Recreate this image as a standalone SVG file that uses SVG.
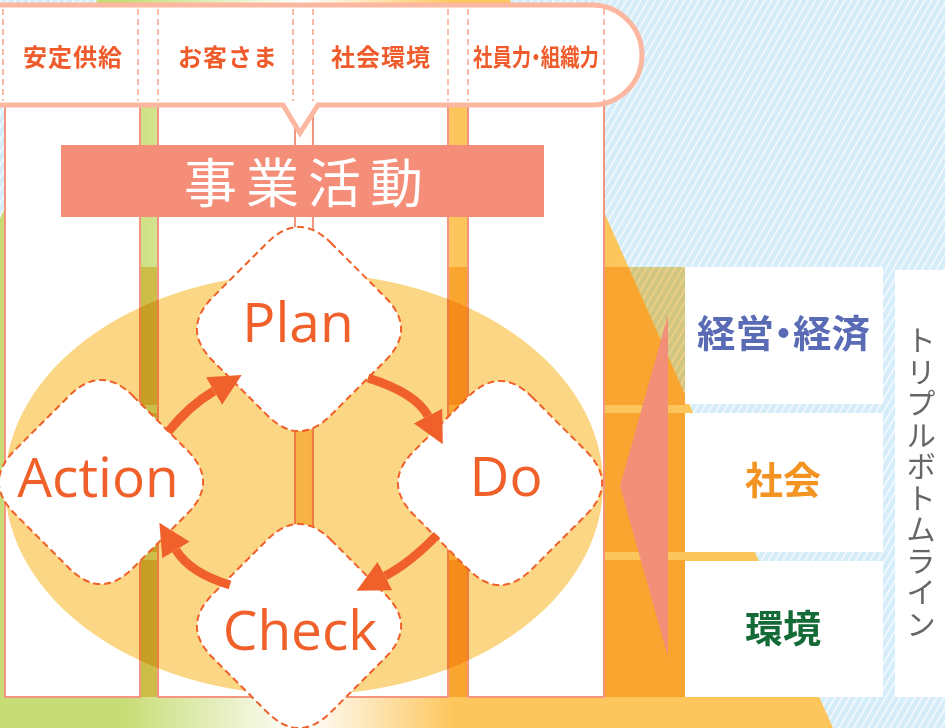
<svg xmlns="http://www.w3.org/2000/svg" xmlns:xlink="http://www.w3.org/1999/xlink" width="945" height="728" viewBox="0 0 945 728">
<style>
.jp{font-family:'Noto Sans CJK JP','Noto Sans',sans-serif}
.palt{font-feature-settings:"palt" 1}
.hd{font-size:24px;font-weight:700;fill:#ef5b2a;letter-spacing:1px}
.col{fill:#fff;stroke:#f39580;stroke-width:2}
.dash{stroke:#f9a590;stroke-width:1.5;stroke-dasharray:6 4;fill:none}
.dia{fill:#fff;stroke:#f0602a;stroke-width:2;stroke-dasharray:7 4}
.en{font-family:'Open Sans','Noto Sans',sans-serif;font-size:55px;fill:#f0602a;text-anchor:middle}
.mul{mix-blend-mode:multiply}
.arr{fill:none;stroke:#f0602a;stroke-width:9}
.box{fill:#fff}
.bx{font-size:38px;font-weight:700;text-anchor:middle}
</style>
<defs>
<pattern id="hatch" width="6.3" height="20" patternUnits="userSpaceOnUse" patternTransform="rotate(30)">
<rect width="6.3" height="20" fill="#d5ecf9"/>
<rect width="1.4" height="20" fill="#ffffff" opacity="0.85"/>
</pattern>
<linearGradient id="pyr" gradientUnits="userSpaceOnUse" x1="0" y1="0" x2="945" y2="0">
<stop offset="0.13" stop-color="#c8dc75"/>
<stop offset="0.32" stop-color="#ffffff"/>
<stop offset="0.48" stop-color="#fdc65d"/>
</linearGradient>
<path id="dia" d="M31.8,-86.2 L86.2,-31.8 Q118,0 86.2,31.8 L31.8,86.2 Q0,118 -31.8,86.2 L-86.2,31.8 Q-118,0 -86.2,-31.8 L-31.8,-86.2 Q0,-118 31.8,-86.2 Z"/>
<marker id="ah" markerUnits="userSpaceOnUse" markerWidth="32" markerHeight="32" viewBox="0 0 30 30" refX="0" refY="15" orient="auto">
<path d="M0,0 L30,15 L0,30 Z" fill="#f0602a"/>
</marker>
</defs>

<g id="background">
<rect width="945" height="728" fill="url(#hatch)"/>
<polygon points="97,0 510,0 833,728 -226,728" fill="url(#pyr)"/>
<g class="mul" fill="#fbd685">
<rect x="5" y="267" width="680" height="138"/>
<rect x="5" y="413" width="680" height="139"/>
<rect x="5" y="560" width="680" height="137"/>
</g>
</g>

<g id="columns">
<rect class="col" x="5" y="100" width="135" height="597"/>
<rect class="col" x="158" y="100" width="137" height="597"/>
<rect class="col" x="313" y="100" width="135" height="597"/>
<rect class="col" x="468" y="100" width="136" height="597"/>
</g>

<g id="header">
<path d="M-10,5 H592 A50,50 0 0 1 592,105 H318 L300,133 L283,105 H-10 Z" fill="#fff" stroke="#fcb7a0" stroke-width="5"/>
<g class="dash">
<line x1="3" y1="9" x2="3" y2="101"/>
<line x1="138" y1="9" x2="138" y2="101"/>
<line x1="158" y1="9" x2="158" y2="101"/>
<line x1="293" y1="9" x2="293" y2="101"/>
<line x1="313" y1="9" x2="313" y2="101"/>
<line x1="448" y1="9" x2="448" y2="101"/>
<line x1="468" y1="9" x2="468" y2="101"/>
<line x1="604" y1="9" x2="604" y2="101"/>
</g>
<g id="cat1"><text class="jp hd" x="73" y="66" text-anchor="middle">安定供給</text></g>
<g id="cat2"><text class="jp hd" x="228" y="66" text-anchor="middle">お客さま</text></g>
<g id="cat3"><text class="jp hd" x="381" y="66" text-anchor="middle">社会環境</text></g>
<g id="cat4"><text class="jp hd palt" x="473" y="66" textLength="126" lengthAdjust="spacingAndGlyphs" style="letter-spacing:0">社員力・組織力</text></g>
</g>

<g id="banner">
<rect x="61" y="145" width="483" height="72" fill="#f48e78"/>
<text class="jp" x="184" y="203" font-size="53" fill="#fff" letter-spacing="9">事業活動</text>
</g>

<ellipse id="cycle-area" class="mul" cx="304" cy="484" rx="299" ry="211" fill="#fbd685"/>

<g id="plan"><use xlink:href="#dia" class="dia" transform="translate(299,329)"/><text class="en" x="298" y="342">Plan</text></g>
<g id="do"><use xlink:href="#dia" class="dia" transform="translate(500,483)"/><text class="en" x="506" y="496">Do</text></g>
<g id="check"><use xlink:href="#dia" class="dia" transform="translate(299,626)"/><text class="en" x="300" y="650">Check</text></g>
<g id="action"><use xlink:href="#dia" class="dia" transform="translate(101,482)"/><text class="en" x="98" y="497">Action</text></g>

<g id="connectors">
<path class="arr" d="M168,432 Q190,405 214,391" marker-end="url(#ah)"/>
<path class="arr" d="M368,378 Q416,393 428,416" marker-end="url(#ah)"/>
<path class="arr" d="M437,535 Q410,563 385,576" marker-end="url(#ah)"/>
<path class="arr" d="M230,585 Q190,573 176,550" marker-end="url(#ah)"/>
</g>

<polygon id="pointer" points="620,486 668,315 668,657" fill="#f28f78"/>

<g id="economy"><rect class="box" x="685" y="267" width="198" height="137"/>
<text class="jp palt" x="697" y="347" font-size="38" font-weight="700" fill="#5a6bb5" textLength="173" lengthAdjust="spacingAndGlyphs">経営・経済</text></g>
<g id="society"><rect class="box" x="685" y="413" width="198" height="139"/>
<text class="jp bx" x="783" y="494" fill="#f39321">社会</text></g>
<g id="environment"><rect class="box" x="685" y="561" width="198" height="136"/>
<text class="jp bx" x="783" y="642" fill="#156b38">環境</text></g>

<g id="tbl"><rect class="box" x="895" y="270" width="50" height="427"/>
<text class="jp" x="921" y="325" font-size="30" fill="#666" letter-spacing="1.5" style="writing-mode:vertical-rl">トリプルボトムライン</text></g>
</svg>
